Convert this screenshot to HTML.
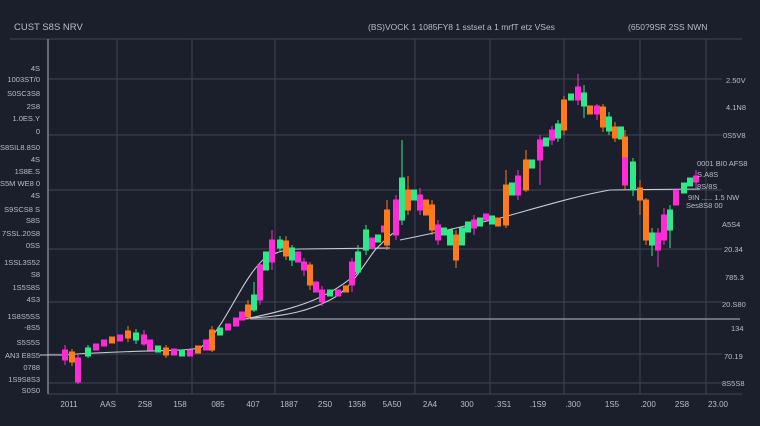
<!DOCTYPE html>
<html><head><meta charset="utf-8"><style>
html,body{margin:0;padding:0;background:#1b1f2b;}
svg{display:block}
text{font-family:"Liberation Sans",sans-serif;fill:#b9bdc8}
.g{fill:#2ee88a;stroke:#2ee88a}.m{fill:#ff2bd6;stroke:#ff2bd6}.o{fill:#ff7a1a;stroke:#ff7a1a}
</style></head><body>
<svg width="760" height="426" viewBox="0 0 760 426" xmlns="http://www.w3.org/2000/svg">
<rect width="760" height="426" fill="#1b1f2b"/>
<g stroke="#3e4455" stroke-width="1">
<line x1="10" y1="39" x2="742" y2="39"/>
<line x1="48" y1="79" x2="722" y2="79"/>
<line x1="48" y1="135" x2="722" y2="135"/>
<line x1="48" y1="190" x2="722" y2="190"/>
<line x1="48" y1="249" x2="722" y2="249"/>
<line x1="48" y1="302" x2="722" y2="302"/>
<line x1="48" y1="354" x2="722" y2="354"/>
<line x1="48" y1="383" x2="722" y2="383"/>
<line x1="48" y1="394" x2="742" y2="394"/>
<line x1="117" y1="39" x2="117" y2="394"/>
<line x1="192" y1="39" x2="192" y2="394"/>
<line x1="275" y1="39" x2="275" y2="394"/>
<line x1="415" y1="39" x2="415" y2="394"/>
<line x1="490" y1="39" x2="490" y2="394"/>
<line x1="564" y1="39" x2="564" y2="394"/>
<line x1="640" y1="39" x2="640" y2="394"/>
<line x1="706" y1="39" x2="706" y2="394"/>
</g>
<line x1="48" y1="39" x2="48" y2="394" stroke="#7d8290" stroke-width="1.5"/>
<line x1="250" y1="319" x2="740" y2="319" stroke="#9a9ea8" stroke-width="1.2"/>
<g fill="none" stroke="#c8ccd4" stroke-width="1.1">
<path d="M40,355 L65,355 C120,350 180,352 200,348 C225,330 240,280 265,258 C280,250 290,249 300,249 L390,248"/>
<path d="M250,318 C290,316 310,310 330,300 C350,290 360,270 375,250 C385,240 390,235 395,232"/>
<path d="M400,240 C440,232 470,225 500,218 C540,207 580,195 610,190 L700,189"/>
<path d="M240,320 C290,310 330,300 360,270"/>
</g>
<g stroke-width="1">
<g class="m"><line x1="65" y1="345" x2="65" y2="365"/><rect x="62.5" y="350" width="5" height="10"/></g>
<g class="o"><line x1="72" y1="349" x2="72" y2="366"/><rect x="69.5" y="352" width="5" height="10"/></g>
<g class="m"><line x1="78" y1="355" x2="78" y2="384"/><rect x="75.5" y="358" width="5" height="24"/></g>
<g class="g"><line x1="88" y1="345" x2="88" y2="358"/><rect x="85.5" y="348" width="5" height="8"/></g>
<g class="m"><rect x="93.5" y="344" width="5" height="6"/></g>
<g class="m"><rect x="101.5" y="340" width="5" height="6"/></g>
<g class="o"><rect x="109.5" y="337" width="5" height="6"/></g>
<g class="m"><rect x="117.5" y="335" width="5" height="6"/></g>
<g class="o"><line x1="128" y1="326" x2="128" y2="342"/><rect x="125.5" y="331" width="5" height="7"/></g>
<g class="g"><line x1="136" y1="329" x2="136" y2="344"/><rect x="133.5" y="333" width="5" height="7"/></g>
<g class="m"><line x1="144" y1="330" x2="144" y2="346"/><rect x="141.5" y="335" width="5" height="9"/></g>
<g class="m"><rect x="147.5" y="340" width="5" height="10"/></g>
<g class="g"><rect x="155.5" y="346" width="5" height="6"/></g>
<g class="o"><line x1="166" y1="345" x2="166" y2="358"/><rect x="163.5" y="348" width="5" height="7"/></g>
<g class="m"><rect x="171.5" y="349" width="5" height="6"/></g>
<g class="g"><rect x="179.5" y="350" width="5" height="6"/></g>
<g class="m"><rect x="187.5" y="350" width="5" height="6"/></g>
<g class="o"><rect x="195.5" y="346" width="5" height="7"/></g>
<g class="m"><rect x="203.5" y="340" width="5" height="10"/></g>
<g class="o"><line x1="212" y1="326" x2="212" y2="352"/><rect x="209.5" y="330" width="5" height="20"/></g>
<g class="g"><rect x="217.5" y="328" width="5" height="7"/></g>
<g class="m"><rect x="225.5" y="324" width="5" height="6"/></g>
<g class="m"><rect x="233.5" y="318" width="5" height="8"/></g>
<g class="m"><rect x="239.5" y="312" width="5" height="8"/></g>
<g class="o"><line x1="248" y1="300" x2="248" y2="320"/><rect x="245.5" y="305" width="5" height="12"/></g>
<g class="g"><line x1="254" y1="282" x2="254" y2="312"/><rect x="251.5" y="295" width="5" height="15"/></g>
<g class="m"><line x1="260" y1="262" x2="260" y2="305"/><rect x="257.5" y="265" width="5" height="35"/></g>
<g class="g"><rect x="263.5" y="252" width="5" height="18"/></g>
<g class="m"><line x1="272" y1="230" x2="272" y2="270"/><rect x="269.5" y="240" width="5" height="22"/></g>
<g class="g"><line x1="280" y1="236" x2="280" y2="252"/><rect x="277.5" y="240" width="5" height="8"/></g>
<g class="o"><line x1="286" y1="236" x2="286" y2="260"/><rect x="283.5" y="241" width="5" height="15"/></g>
<g class="g"><line x1="292" y1="245" x2="292" y2="266"/><rect x="289.5" y="248" width="5" height="12"/></g>
<g class="m"><rect x="295.5" y="252" width="5" height="10"/></g>
<g class="m"><line x1="304" y1="258" x2="304" y2="276"/><rect x="301.5" y="262" width="5" height="8"/></g>
<g class="o"><line x1="310" y1="262" x2="310" y2="290"/><rect x="307.5" y="265" width="5" height="20"/></g>
<g class="m"><rect x="313.5" y="282" width="5" height="10"/></g>
<g class="m"><line x1="322" y1="286" x2="322" y2="306"/><rect x="319.5" y="290" width="5" height="12"/></g>
<g class="g"><rect x="327.5" y="290" width="5" height="6"/></g>
<g class="m"><rect x="335.5" y="290" width="5" height="6"/></g>
<g class="o"><rect x="343.5" y="286" width="5" height="6"/></g>
<g class="m"><line x1="352" y1="258" x2="352" y2="292"/><rect x="349.5" y="262" width="5" height="23"/></g>
<g class="g"><line x1="358" y1="245" x2="358" y2="275"/><rect x="355.5" y="252" width="5" height="20"/></g>
<g class="g"><line x1="366" y1="225" x2="366" y2="255"/><rect x="363.5" y="230" width="5" height="20"/></g>
<g class="m"><rect x="369.5" y="238" width="5" height="10"/></g>
<g class="g"><rect x="375.5" y="235" width="5" height="7"/></g>
<g class="m"><rect x="381.5" y="226" width="5" height="6"/></g>
<g class="o"><line x1="387" y1="200" x2="387" y2="250"/><rect x="384.5" y="210" width="5" height="35"/></g>
<g class="m"><line x1="396" y1="195" x2="396" y2="240"/><rect x="393.5" y="200" width="5" height="35"/></g>
<g class="g"><line x1="402" y1="140" x2="402" y2="225"/><rect x="399.5" y="178" width="5" height="42"/></g>
<g class="o"><line x1="408" y1="176" x2="408" y2="215"/><rect x="405.5" y="190" width="5" height="20"/></g>
<g class="g"><rect x="411.5" y="190" width="5" height="10"/></g>
<g class="m"><line x1="420" y1="188" x2="420" y2="215"/><rect x="417.5" y="195" width="5" height="15"/></g>
<g class="o"><rect x="423.5" y="200" width="5" height="15"/></g>
<g class="o"><line x1="432" y1="200" x2="432" y2="235"/><rect x="429.5" y="205" width="5" height="25"/></g>
<g class="m"><line x1="438" y1="220" x2="438" y2="245"/><rect x="435.5" y="225" width="5" height="15"/></g>
<g class="g"><rect x="441.5" y="228" width="5" height="7"/></g>
<g class="g"><rect x="447.5" y="230" width="5" height="15"/></g>
<g class="o"><line x1="456" y1="230" x2="456" y2="268"/><rect x="453.5" y="235" width="5" height="25"/></g>
<g class="g"><rect x="459.5" y="228" width="5" height="17"/></g>
<g class="g"><rect x="465.5" y="222" width="5" height="10"/></g>
<g class="m"><line x1="474" y1="215" x2="474" y2="235"/><rect x="471.5" y="220" width="5" height="8"/></g>
<g class="g"><rect x="477.5" y="218" width="5" height="8"/></g>
<g class="m"><rect x="483.5" y="214" width="5" height="6"/></g>
<g class="g"><rect x="489.5" y="216" width="5" height="8"/></g>
<g class="o"><rect x="495.5" y="218" width="5" height="8"/></g>
<g class="o"><line x1="506" y1="170" x2="506" y2="228"/><rect x="503.5" y="185" width="5" height="40"/></g>
<g class="g"><rect x="509.5" y="183" width="5" height="12"/></g>
<g class="m"><line x1="518" y1="170" x2="518" y2="200"/><rect x="515.5" y="176" width="5" height="19"/></g>
<g class="o"><line x1="526" y1="150" x2="526" y2="192"/><rect x="523.5" y="160" width="5" height="30"/></g>
<g class="g"><rect x="529.5" y="160" width="5" height="8"/></g>
<g class="m"><line x1="540" y1="135" x2="540" y2="185"/><rect x="537.5" y="140" width="5" height="20"/></g>
<g class="g"><rect x="543.5" y="138" width="5" height="8"/></g>
<g class="m"><line x1="552" y1="126" x2="552" y2="145"/><rect x="549.5" y="130" width="5" height="10"/></g>
<g class="g"><line x1="558" y1="120" x2="558" y2="142"/><rect x="555.5" y="124" width="5" height="14"/></g>
<g class="o"><line x1="564" y1="96" x2="564" y2="135"/><rect x="561.5" y="100" width="5" height="30"/></g>
<g class="g"><rect x="568.5" y="94" width="5" height="6"/></g>
<g class="m"><line x1="578" y1="74" x2="578" y2="105"/><rect x="575.5" y="87" width="5" height="13"/></g>
<g class="g"><line x1="584" y1="85" x2="584" y2="118"/><rect x="581.5" y="93" width="5" height="13"/></g>
<g class="o"><rect x="587.5" y="106" width="5" height="8"/></g>
<g class="m"><line x1="597" y1="104" x2="597" y2="120"/><rect x="594.5" y="106" width="5" height="8"/></g>
<g class="o"><line x1="603" y1="104" x2="603" y2="132"/><rect x="600.5" y="107" width="5" height="20"/></g>
<g class="g"><line x1="609" y1="112" x2="609" y2="135"/><rect x="606.5" y="117" width="5" height="14"/></g>
<g class="o"><line x1="615" y1="122" x2="615" y2="142"/><rect x="612.5" y="127" width="5" height="11"/></g>
<g class="g"><rect x="618.5" y="127" width="5" height="12"/></g>
<g class="o"><line x1="625" y1="130" x2="625" y2="190"/><rect x="622.5" y="137" width="5" height="22"/></g>
<g class="m"><rect x="622.5" y="158" width="5" height="27"/></g>
<g class="g"><line x1="633" y1="158" x2="633" y2="196"/><rect x="630.5" y="162" width="5" height="28"/></g>
<g class="o"><line x1="640" y1="180" x2="640" y2="215"/><rect x="637.5" y="188" width="5" height="12"/></g>
<g class="o"><line x1="646" y1="198" x2="646" y2="245"/><rect x="643.5" y="200" width="5" height="40"/></g>
<g class="g"><line x1="652" y1="228" x2="652" y2="256"/><rect x="649.5" y="233" width="5" height="12"/></g>
<g class="m"><line x1="658" y1="228" x2="658" y2="267"/><rect x="655.5" y="233" width="5" height="17"/></g>
<g class="m"><line x1="664" y1="208" x2="664" y2="245"/><rect x="661.5" y="215" width="5" height="25"/></g>
<g class="g"><line x1="670" y1="205" x2="670" y2="248"/><rect x="667.5" y="210" width="5" height="20"/></g>
<g class="m"><rect x="673.5" y="190" width="5" height="15"/></g>
<g class="g"><rect x="681.5" y="183" width="5" height="10"/></g>
<g class="g"><rect x="687.5" y="178" width="5" height="8"/></g>
<g class="m"><line x1="696" y1="170" x2="696" y2="188"/><rect x="693.5" y="176" width="5" height="6"/></g>
</g>
<g font-size="7.5" text-anchor="end">
<text x="40" y="71">4S</text><text x="40" y="82">1003ST/0</text><text x="40" y="96">S0SC3S8</text><text x="40" y="109">2S8</text><text x="40" y="121">1.0ES.Y</text><text x="40" y="134">0</text><text x="40" y="150">S8SIL8.8S0</text><text x="40" y="162">4S</text><text x="40" y="174">1S8E.S</text><text x="40" y="186">S5M WE8 0</text><text x="40" y="198">4S</text><text x="40" y="212">S9SCS8 S</text><text x="40" y="223">S8S</text><text x="40" y="236">7SSL.20S8</text><text x="40" y="248">0SS</text><text x="40" y="265">1SSL3S52</text><text x="40" y="277">S8</text><text x="40" y="290">1S5S8S</text><text x="40" y="302">4S3</text><text x="40" y="319">1S8S5SS</text><text x="40" y="330">-8S5</text><text x="40" y="345">S5S5S</text><text x="40" y="358">AN3 E8S5</text><text x="40" y="370">0788</text><text x="40" y="382">1S9S8S3</text><text x="40" y="393">S0S0</text>
</g>
<g font-size="7.5" text-anchor="start">
<text x="726" y="83">2.50V</text><text x="726" y="110">4.1N8</text><text x="723" y="138">0S5V8</text><text x="722" y="227">A5S4</text><text x="724" y="252">20.34</text><text x="725" y="280">785.3</text><text x="722" y="307">20.S80</text><text x="731" y="331">134</text><text x="724" y="359">70.19</text><text x="722" y="386">8S5S8</text>
<text x="697" y="166">0001 BI0 AFS8</text><text x="697" y="177">S.A8S</text><text x="697" y="189">8S/8S</text><text x="688" y="200">9IN ..... 1.5 NW</text><text x="686" y="208">Ses8S8 00</text>
</g>
<g font-size="8" text-anchor="middle">
<text x="69" y="407">2011</text><text x="108" y="407">AAS</text><text x="145" y="407">2S8</text><text x="180" y="407">158</text><text x="218" y="407">085</text><text x="253" y="407">407</text><text x="289" y="407">1887</text><text x="325" y="407">2S0</text><text x="357" y="407">1358</text><text x="392" y="407">5A50</text><text x="430" y="407">2A4</text><text x="467" y="407">300</text><text x="503" y="407">.3S1</text><text x="538" y="407">.1S9</text><text x="573" y="407">.300</text><text x="612" y="407">1S5</text><text x="648" y="407">.200</text><text x="682" y="407">2S8</text><text x="718" y="407">23.00</text>
</g>
<text x="14" y="30" font-size="9.5">CUST S8S NRV</text>
<text x="368" y="30" font-size="8.5">(BS)VOCK 1 1085FY8 1 sstset a 1 mrfT etz VSes</text>
<text x="628" y="30" font-size="8.5">(650?9SR 2SS NWN</text>
</svg>
</body></html>
